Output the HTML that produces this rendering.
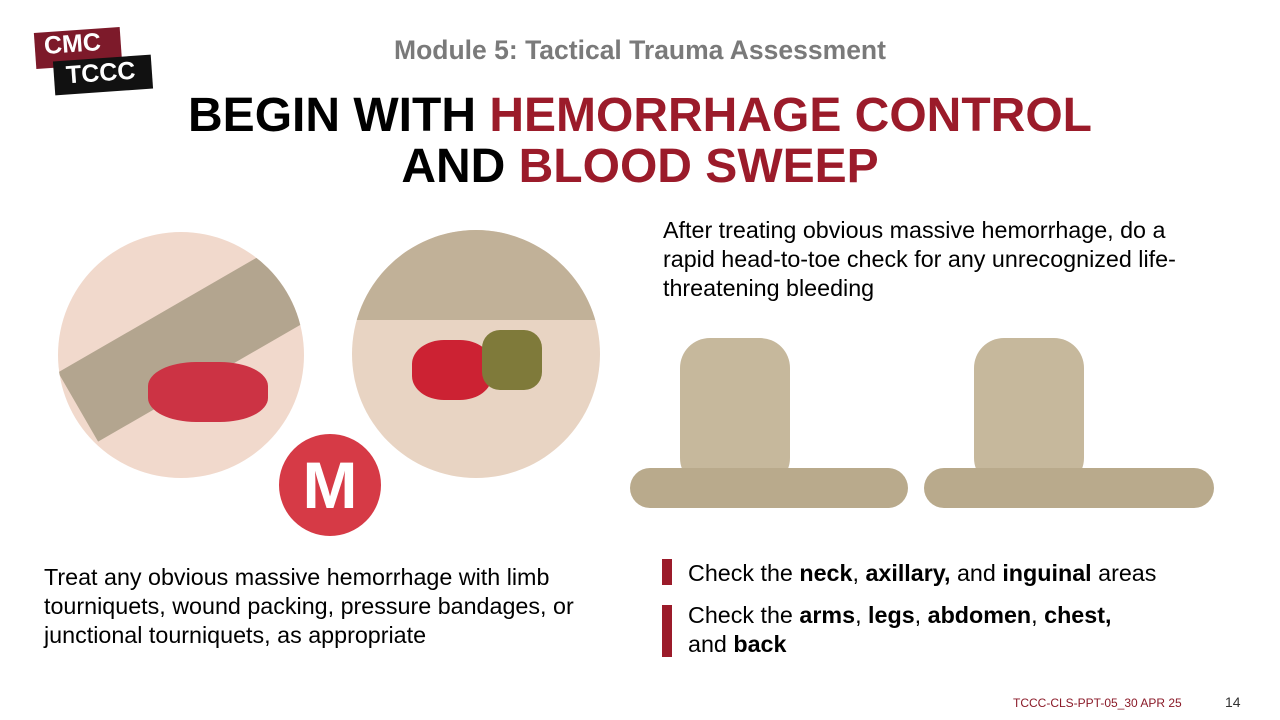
<!DOCTYPE html>
<html><head><style>
body{margin:0;width:1280px;height:720px;background:#fff;position:relative;overflow:hidden;font-family:"Liberation Sans",sans-serif}
.a{position:absolute}
.red{color:#9b1b2a}
</style></head><body>
<div class="a" style="left:35px;top:30px;width:86px;height:36px;background:#7d1a2a;transform:rotate(-4deg)"></div>
<div class="a" style="left:44px;top:30px;color:#fff;font-weight:bold;font-size:25px;transform:rotate(-4deg)">CMC</div>
<div class="a" style="left:54px;top:58px;width:98px;height:34px;background:#111;transform:rotate(-4deg)"></div>
<div class="a" style="left:66px;top:59px;color:#fff;font-weight:bold;font-size:25px;transform:rotate(-4deg)">TCCC</div>
<div class="a" style="left:0;width:1280px;top:35px;text-align:center;color:#7a7a7a;font-weight:bold;font-size:26.5px">Module 5: Tactical Trauma Assessment</div>
<div class="a" style="left:0;width:1280px;top:90px;text-align:center;font-weight:bold;font-size:48px;line-height:51px">BEGIN WITH <span class="red">HEMORRHAGE CONTROL</span><br>AND <span class="red">BLOOD SWEEP</span></div>
<div class="a" style="left:58px;top:232px;width:246px;height:246px;border-radius:50%;background:#f1d9cc;overflow:hidden"><div style="position:absolute;left:0;top:60px;width:300px;height:80px;background:#b3a58f;transform:rotate(-30deg)"></div><div style="position:absolute;left:90px;top:130px;width:120px;height:60px;background:#cc3344;border-radius:40%"></div></div>
<div class="a" style="left:352px;top:230px;width:248px;height:248px;border-radius:50%;background:#e8d4c3;overflow:hidden"><div style="position:absolute;left:0;top:0;width:248px;height:90px;background:#c1b198"></div><div style="position:absolute;left:60px;top:110px;width:80px;height:60px;background:#cc2233;border-radius:40%"></div><div style="position:absolute;left:130px;top:100px;width:60px;height:60px;background:#7f7a3a;border-radius:30%"></div></div>
<div class="a" style="left:275px;top:430px;width:110px;height:110px;border-radius:50%;background:#d63a46;border:4px solid #fff;box-sizing:border-box;color:#fff;font-weight:bold;font-size:66px;text-align:center;line-height:102px">M</div>
<div class="a" style="left:663px;top:216px;font-size:23.3px;line-height:29px;width:548px">After treating obvious massive hemorrhage, do a rapid head-to-toe check for any unrecognized life-threatening bleeding</div>
<div class="a" style="left:630px;top:318px;width:278px;height:225px"><div style="position:absolute;left:50px;top:20px;width:110px;height:150px;background:#c6b89c;border-radius:30px"></div><div style="position:absolute;left:0;top:150px;width:278px;height:40px;background:#b9aa8c;border-radius:20px"></div></div>
<div class="a" style="left:924px;top:318px;width:290px;height:225px"><div style="position:absolute;left:50px;top:20px;width:110px;height:150px;background:#c6b89c;border-radius:30px"></div><div style="position:absolute;left:0;top:150px;width:290px;height:40px;background:#b9aa8c;border-radius:20px"></div></div>
<div class="a" style="left:662px;top:559px;width:10px;height:26px;background:#9b1b2a"></div>
<div class="a" style="left:688px;top:560px;font-size:23.3px">Check the <b>neck</b>, <b>axillary,</b> and <b>inguinal</b> areas</div>
<div class="a" style="left:662px;top:605px;width:10px;height:52px;background:#9b1b2a"></div>
<div class="a" style="left:688px;top:601px;font-size:23.3px;line-height:29px">Check the <b>arms</b>, <b>legs</b>, <b>abdomen</b>, <b>chest,</b><br>and <b>back</b></div>
<div class="a" style="left:44px;top:563px;font-size:23.3px;line-height:29px;width:580px">Treat any obvious massive hemorrhage with limb tourniquets, wound packing, pressure bandages, or junctional tourniquets, as appropriate</div>
<div class="a" style="left:1013px;top:696px;font-size:12px;color:#8a1a28">TCCC-CLS-PPT-05_30 APR 25</div>
<div class="a" style="left:1225px;top:694px;font-size:14px;color:#333">14</div>
</body></html>
